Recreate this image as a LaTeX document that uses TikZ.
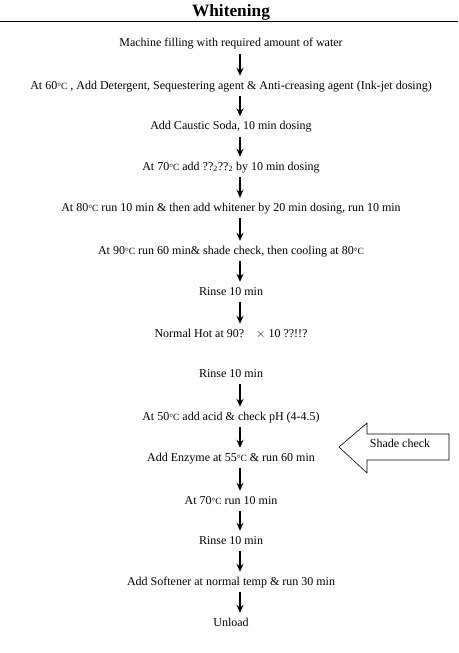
\documentclass[tikz,border=0pt]{standalone}
\usepackage{fontspec}
\setmainfont{Liberation Serif}
\usetikzlibrary{arrows.meta}
\newcommand{\degC}{{\fontsize{9.5}{9.5}\selectfont °C}}

\tikzset{
  stage/.style={anchor=base, inner sep=0, text height=13pt, text depth=7pt,
    font=\fontsize{12}{14}\selectfont},
  flow/.style={line width=1.6, -{Stealth[length=8pt, width=7pt]}},
}

\begin{document}
\begin{tikzpicture}[x=1pt, y=-1pt]
  \useasboundingbox (0,0) rectangle (458,653);

  % title and rule
  \node[anchor=base, inner sep=0, font=\bfseries\fontsize{17.3}{20}\selectfont] (title) at (231,16.7) {Whitening};
  \draw[line width=1.4] (0,21.7) -- (458,21.7);

  % process steps
  \node[stage] (fill) at (231,46.5) {Machine filling with required amount of water};
  \node[stage] (detergent) at (231,89) {At 60\degC\ , Add Detergent, Sequestering agent \& Anti-creasing agent (Ink-jet dosing)};
  \node[stage] (soda) at (231,129.5) {Add Caustic Soda, 10 min dosing};
  \node[stage] (peroxide) at (231,170) {At 70\degC\ add ??\textsubscript{2}??\textsubscript{2} by 10 min dosing};
  \node[stage] (whitener) at (231,211) {At 80\degC\ run 10 min \& then add whitener by 20 min dosing, run 10 min};
  \node[stage] (cooling) at (231,254) {At 90\degC\ run 60 min\& shade check, then cooling at 80\degC};
  \node[stage] (rinseA) at (231,295) {Rinse 10 min};
  \node[stage] (hot) at (231,337) {Normal Hot at 90?\quad$\times$ 10 ??!!?};
  \node[stage] (rinseB) at (231,377) {Rinse 10 min};
  \node[stage] (acid) at (231,420) {At 50\degC\ add acid \& check pH (4-4.5)};
  \node[stage] (enzyme) at (231,461) {Add Enzyme at 55\degC\ \& run 60 min};
  \node[stage] (hold) at (231,504) {At 70\degC\ run 10 min};
  \node[stage] (rinseC) at (231,544) {Rinse 10 min};
  \node[stage] (softener) at (231,585) {Add Softener at normal temp \& run 30 min};
  \node[stage] (unload) at (231,626) {Unload};

  % arrows
  \coordinate (axis) at (240,0);
  \foreach \a/\b in {fill/detergent, detergent/soda, soda/peroxide, peroxide/whitener,
      whitener/cooling, cooling/rinseA, rinseA/hot, rinseB/acid, acid/enzyme,
      enzyme/hold, hold/rinseC, rinseC/softener, softener/unload}
    \draw[flow] (\a.south -| axis) -- (\b.north -| axis);

  % shade check callout
  \draw[line width=0.6] (339,447) -- (367,423) -- (367,434) -- (449,434)
    -- (449,460) -- (367,460) -- (367,473) -- cycle;
  \node[stage] (shade) at (400,447.5) {Shade check};
\end{tikzpicture}
\end{document}
